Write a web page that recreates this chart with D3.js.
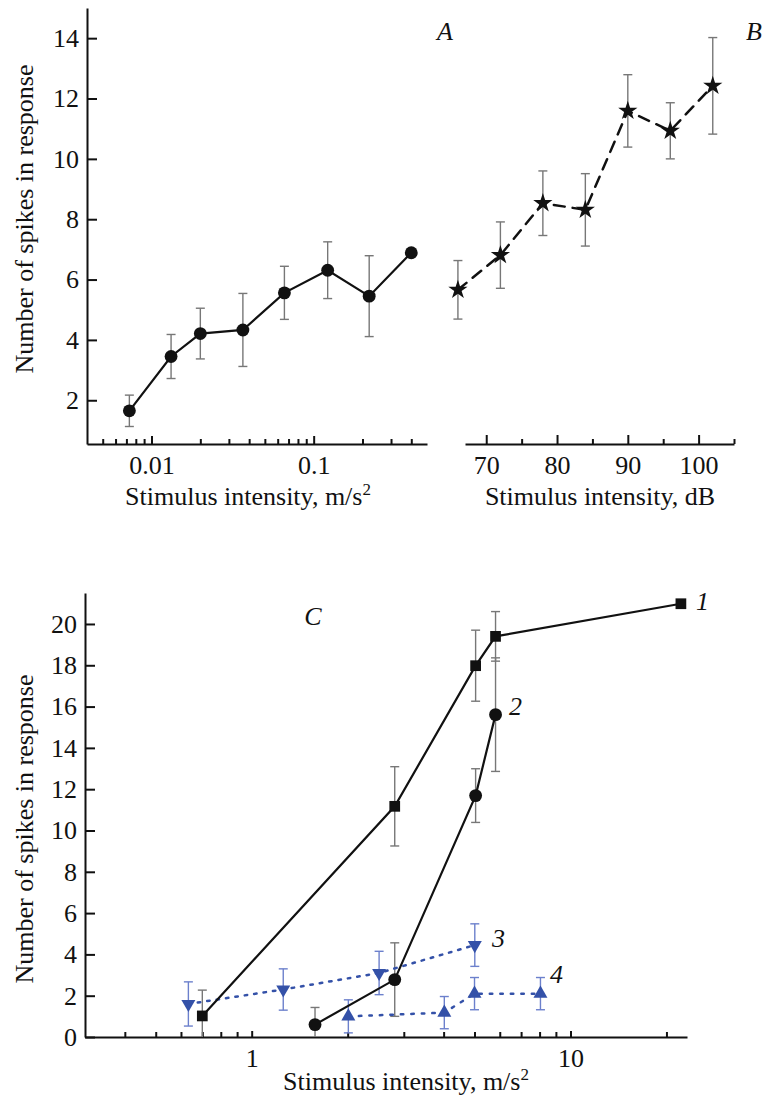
<!DOCTYPE html>
<html>
<head>
<meta charset="utf-8">
<script src="https://cdn.jsdelivr.net/npm/d3@7"></script>
<style>
  body { margin: 0; background: #fff; }
  svg text { font-family: "Liberation Serif", "DejaVu Serif", Times, serif; fill: #111; }
  .axis text { font-size: 26px; }
  .axis line, .axis path { stroke: #111; stroke-width: 2; }
</style>
</head>
<body>
<svg id="chart" width="764" height="1097"></svg>
<script>
// panel A : mechanical stimulus
const intensityA = [0.0073, 0.0132, 0.02, 0.0366, 0.066, 0.122, 0.22, 0.4]
const spikesA = [1.65, 3.45, 4.21, 4.33, 5.56, 6.31, 5.45, 6.89]
const errA = [0.52, 0.73, 0.84, 1.21, 0.88, 0.94, 1.34, 0]

// panel B : sound
const intensityB = [66, 72, 78, 84, 90, 96, 102]
const spikesB = [5.66, 6.81, 8.53, 8.31, 11.59, 10.93, 12.42]
const errB = [0.97, 1.1, 1.07, 1.2, 1.2, 0.93, 1.6]

// panel C : four curves
const intensityC1 = [0.7, 2.81, 5.04, 5.82, 22.2]
const spikesC1 = [1.02, 11.17, 17.98, 19.4, 20.98]
const errC1 = [1.25, 1.92, 1.72, 1.2, 0]

const intensityC2 = [1.58, 2.81, 5.04, 5.82]
const spikesC2 = [0.6, 2.78, 11.69, 15.61]
const errC2 = [0.83, 1.78, 1.3, 2.75]

const intensityC3 = [0.633, 1.256, 2.51, 5.01]
const spikesC3 = [1.6, 2.3, 3.1, 4.45]
const errC3 = [1.07, 1.0, 1.05, 1.03]

const intensityC4 = [2.01, 4.02, 5.0, 8.05]
const spikesC4 = [1.0, 1.18, 2.1, 2.1]
const errC4 = [0.8, 0.78, 0.78, 0.78]

const ticksAB = [2, 4, 6, 8, 10, 12, 14]
const ticksC = [0, 2, 4, 6, 8, 10, 12, 14, 16, 18, 20]
const minorA = [0.005, 0.006, 0.007, 0.008, 0.009, 0.02, 0.03, 0.04, 0.05, 0.06, 0.07, 0.08, 0.09, 0.2, 0.3, 0.4]
const majorA = [0.01, 0.1]
const minorB = [75, 85, 95, 105]
const majorB = [70, 80, 90, 100]
const minorC = [0.4, 0.5, 0.6, 0.7, 0.8, 0.9, 2, 3, 4, 5, 6, 7, 8, 9, 20]
const majorC = [1, 10]

const black = "#111"
const blue = "#3451a8"
const errGray = "#777"
const errBlue = "#6c80cc"

const svg = d3.select("#chart")

const zip = (xs, ys, es) => xs.map((x, i) => ({ x: x, y: ys[i], e: es[i] }))

// scales
const xA = d3.scaleLog().domain([0.004, 0.5]).range([87, 427])
const xB = d3.scaleLinear().domain([67, 105]).range([465, 734])
const yAB = d3.scaleLinear().domain([0.55, 15]).range([444, 8])

const xC = d3.scaleLog().domain([0.3, 23.2]).range([85, 687])
const yC = d3.scaleLinear().domain([0, 21.5]).range([1037, 593])

// x axis helper: minor ticks, then major ticks with labels
const drawXAxis = (x, y0, minor, major, majorLen) => {
  svg.append("g")
    .attr("class", "axis")
    .attr("transform", "translate(0," + y0 + ")")
    .call(d3.axisBottom(x).tickValues(minor).tickSizeInner(-5).tickSizeOuter(0).tickFormat(""))
  svg.append("g")
    .attr("class", "axis")
    .attr("transform", "translate(0," + y0 + ")")
    .call(d3.axisBottom(x).tickValues(major).tickSizeInner(-majorLen).tickSizeOuter(0).tickPadding(12).tickFormat(d => d))
    .select(".domain").remove()
}

const drawYAxis = (y, x0, ticks) => {
  svg.append("g")
    .attr("class", "axis")
    .attr("transform", "translate(" + x0 + ",0)")
    .call(d3.axisLeft(y).tickValues(ticks).tickSizeInner(-10).tickSizeOuter(0).tickPadding(8))
}

// panel A and B axes
drawYAxis(yAB, 87, ticksAB)
drawXAxis(xA, 444, minorA, majorA, 8)
drawXAxis(xB, 444, minorB, majorB, 9)

// panel C axes
drawYAxis(yC, 85, ticksC)
drawXAxis(xC, 1037, minorC, majorC, 6)

svg.selectAll(".axis").attr("font-family", null)

// error bars
const errorBars = (data, x, y, color, cap, yMin) => {
  const g = svg.append("g")
    .attr("stroke", color)
    .attr("stroke-width", 1.4)
    .attr("fill", "none")
  data.filter(d => d.e > 0).forEach(d => {
    const top = y(d.y + d.e)
    const bot = y(Math.max(d.y - d.e, yMin))
    const cx = x(d.x)
    g.append("line").attr("x1", cx).attr("x2", cx).attr("y1", top).attr("y2", bot)
    g.append("line").attr("x1", cx - cap).attr("x2", cx + cap).attr("y1", top).attr("y2", top)
    if (d.y - d.e > yMin) {
      g.append("line").attr("x1", cx - cap).attr("x2", cx + cap).attr("y1", bot).attr("y2", bot)
    }
  })
}

const drawLine = (data, x, y, color, width, dash) => {
  svg.append("path")
    .datum(data)
    .attr("fill", "none")
    .attr("stroke", color)
    .attr("stroke-width", width)
    .attr("stroke-linecap", dash ? "round" : "butt")
    .attr("stroke-dasharray", dash)
    .attr("d", d3.line().x(d => x(d.x)).y(d => y(d.y)))
}

const drawMarks = (data, x, y, type, size, color, rotate) => {
  svg.append("g")
    .selectAll("path")
    .data(data)
    .enter().append("path")
      .attr("transform", d => "translate(" + x(d.x) + "," + y(d.y) + ")" + (rotate ? " rotate(180)" : ""))
      .attr("fill", color)
      .attr("d", d3.symbol().type(type).size(size))
}

const dataA = zip(intensityA, spikesA, errA)
const dataB = zip(intensityB, spikesB, errB)
const dataC1 = zip(intensityC1, spikesC1, errC1)
const dataC2 = zip(intensityC2, spikesC2, errC2)
const dataC3 = zip(intensityC3, spikesC3, errC3)
const dataC4 = zip(intensityC4, spikesC4, errC4)

// panel A
errorBars(dataA, xA, yAB, errGray, 4.5, 0)
drawLine(dataA, xA, yAB, black, 2.2, null)
drawMarks(dataA, xA, yAB, d3.symbolCircle, 130, black, false)

// panel B
errorBars(dataB, xB, yAB, errGray, 4.5, 0)
drawLine(dataB, xB, yAB, black, 2.5, "11,8")
drawMarks(dataB, xB, yAB, d3.symbolStar, 115, black, false)

// panel C
errorBars(dataC3, xC, yC, errBlue, 4.5, 0)
errorBars(dataC4, xC, yC, errBlue, 4.5, 0)
errorBars(dataC1, xC, yC, errGray, 4.5, 0)
errorBars(dataC2, xC, yC, errGray, 4.5, 0)
drawLine(dataC3, xC, yC, blue, 2.5, "2.5,7")
drawLine(dataC4, xC, yC, blue, 2.5, "2.5,8")
drawLine(dataC1, xC, yC, black, 2.2, null)
drawLine(dataC2, xC, yC, black, 2.2, null)
drawMarks(dataC3, xC, yC, d3.symbolTriangle, 85, blue, true)
drawMarks(dataC4, xC, yC, d3.symbolTriangle, 85, blue, false)
drawMarks(dataC1, xC, yC, d3.symbolSquare, 115, black, false)
drawMarks(dataC2, xC, yC, d3.symbolCircle, 130, black, false)

// axis titles
const yTitle = (cx, cy) => {
  svg.append("text")
    .attr("transform", "translate(" + cx + "," + cy + ") rotate(-90)")
    .attr("text-anchor", "middle")
    .attr("font-size", 26)
    .text("Number of spikes in response")
}
yTitle(33, 219)
yTitle(33, 829)

const xTitle = (cx, cy, unit, sup) => {
  const t = svg.append("text")
    .attr("x", cx).attr("y", cy)
    .attr("text-anchor", "middle")
    .attr("font-size", 26)
  t.append("tspan").text("Stimulus intensity, " + unit)
  if (sup) t.append("tspan").attr("font-size", 17).attr("dy", -10).text(sup)
}
xTitle(248, 505, "m/s", "2")
xTitle(600, 505, "dB", null)
xTitle(406, 1090, "m/s", "2")

// panel letters and curve numbers
const label = (x, y, txt, anchor) => {
  svg.append("text")
    .attr("x", x).attr("y", y)
    .attr("text-anchor", anchor)
    .attr("font-size", 26)
    .attr("font-style", "italic")
    .text(txt)
}
label(445, 40, "A", "middle")
label(754, 40, "B", "middle")
label(313, 625, "C", "middle")
label(696, 610, "1", "start")
label(509, 715, "2", "start")
label(492, 947, "3", "start")
label(550, 983, "4", "start")
</script>
</body>
</html>
